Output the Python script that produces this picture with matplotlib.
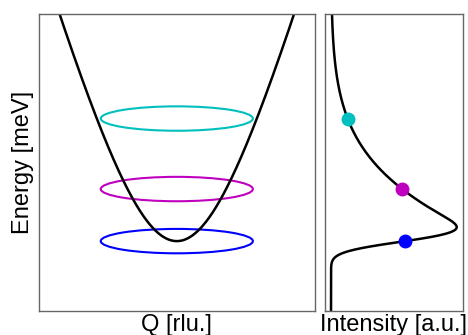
import numpy as np
import matplotlib
matplotlib.use("Agg")
import matplotlib.pyplot as plt
from matplotlib.patches import Ellipse

# gapped dispersion E(Q) = sqrt(gap^2 + (vel*Q)^2)
gap = 9.0
vel = 16.5
q_range = [-1.0, 1.0]
e_range = [6.65, 16.65]

# resolution ellipses sitting at these energy transfers
ellipse_energy = [13.12, 10.75, 9.0]
ellipse_colors = ["c", "m", "b"]
ellipse_width = 1.1
ellipse_height = 0.82

# resolution widths used to fold the dispersion into an energy scan
sigma_q = 0.25
sigma_e = 0.28

plt.rcParams["font.family"] = ["Liberation Sans", "DejaVu Sans"]


def dispersion(q):
    return np.sqrt(gap**2 + (vel * q) ** 2)


def energy_scan(energy):
    """Intensity at Q=0 after folding the 2D dispersion with gaussian resolution"""
    q = np.linspace(-2, 2, 4001)
    w = dispersion(q)
    weight = np.abs(q) * np.exp(-(q**2) / (2 * sigma_q**2))
    inten = (weight[None, :] * np.exp(-((energy[:, None] - w[None, :]) ** 2) / (2 * sigma_e**2))).sum(axis=1)
    return inten / inten.max()


fig = plt.figure(figsize=(4.68, 3.35), dpi=100)
ax1 = fig.add_axes([0.0823, 0.0716, 0.591, 0.888])
ax2 = fig.add_axes([0.6944, 0.0716, 0.2949, 0.888], sharey=ax1)

q = np.linspace(q_range[0], q_range[1], 801)
ax1.plot(q, dispersion(q), color="black", linewidth=1.8)
for en, col in zip(ellipse_energy, ellipse_colors):
    ax1.add_patch(Ellipse((0, en), ellipse_width, ellipse_height, fill=False, edgecolor=col, linewidth=1.5))
ax1.set_xlim(q_range)
ax1.set_ylim(e_range)

energy = np.linspace(e_range[0], e_range[1], 800)
scan = energy_scan(energy)
ax2.plot(scan, energy, color="black", linewidth=1.8)
for en, col in zip(ellipse_energy, ellipse_colors):
    ax2.plot(np.interp(en, energy, scan), en, "o", color=col, markersize=9, zorder=3)
ax2.set_xlim(-0.048, 1.05)

for ax in (ax1, ax2):
    ax.set_xticks([])
    ax.set_yticks([])
    for spine in ax.spines.values():
        spine.set_color("0.4")
        spine.set_linewidth(1.0)

ax1.set_xlabel("Q [rlu.]", fontsize=17, labelpad=2)
ax1.set_ylabel("Energy [meV]", fontsize=17, labelpad=3)
ax2.set_xlabel("Intensity [a.u.]", fontsize=17, labelpad=2)

fig.savefig("out.png", dpi=100)
